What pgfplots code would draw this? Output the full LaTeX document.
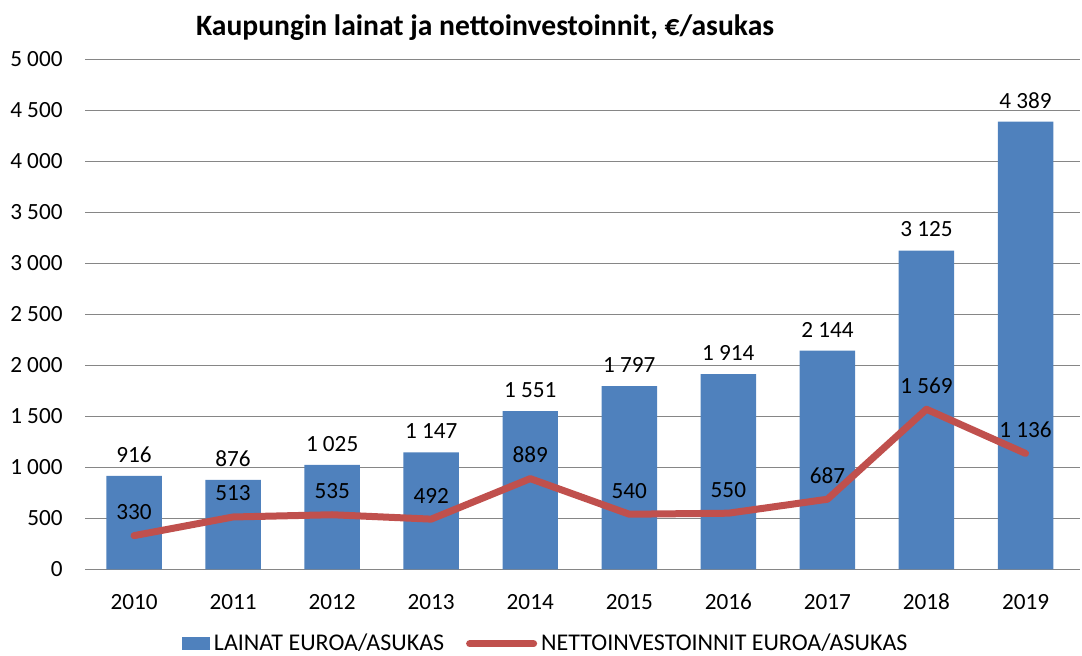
\documentclass[border=0pt]{standalone}
\usepackage{fontspec}
\setmainfont{Carlito}
\usepackage{pgfplots}
\pgfplotsset{compat=1.18}
\definecolor{barblue}{HTML}{4F81BD}
\definecolor{linered}{HTML}{C0504D}
\definecolor{gridgray}{HTML}{868686}

\begin{document}
\begin{tikzpicture}
    \path[use as bounding box] (0,0) rectangle (541pt,327.5pt);
    \node[font=\fontsize{14.8}{17}\selectfont\bfseries] at (242.5pt,313.5pt)
        {Kaupungin lainat ja nettoinvestoinnit, €/asukas};
    \begin{axis}
        [
        at={(42.5pt,42.85pt)}, anchor=south west,
        scale only axis, width=497.5pt, height=255pt,
        xmin=-0.495, xmax=9.55,
        ymin=0, ymax=5000,
        ytick={0,500,...,5000},
        xtick={0,...,9},
        xticklabels={2010,2011,2012,2013,2014,2015,2016,2017,2018,2019},
        axis line style={draw=none},
        major tick length=0pt,
        ymajorgrids=true,
        grid style={gridgray, line width=0.8pt},
        tick label style={font=\fontsize{11.6}{13}\selectfont},
        yticklabel style={anchor=east, xshift=-7.7pt},
        xticklabel style={anchor=base, yshift=-20pt},
        /pgf/number format/.cd, fixed, precision=0, 1000 sep={\hspace{0.226em}}, assume math mode=true,
        /pgfplots/.cd,
        legend columns=2,
        legend style={at={(0.464,-0.146)}, anchor=center, draw=none, fill=none,
            font=\fontsize{12}{13}\selectfont, inner sep=0pt,
            /tikz/every even column/.append style={column sep=9pt}},
        ]
        \addplot[ybar, bar width=0.56, fill=barblue, draw=none,
            nodes near coords,
            nodes near coords style={anchor=south, inner sep=0pt, yshift=6.5pt, text=black,
                font=\fontsize{11.6}{13}\selectfont},
            legend image code/.code={\fill[barblue] (0pt,-3.3pt) rectangle (14pt,3.3pt);}]
        coordinates {
            (0, 916)(1, 876)(2, 1025)(3, 1147)(4, 1551)(5, 1797)(6, 1914)(7, 2144)(8, 3125)(9, 4389)
        };
        \addlegendentry{LAINAT EUROA/ASUKAS}
        \addplot[linered, line width=3.5pt, line cap=round, line join=round, mark=none,
            nodes near coords,
            nodes near coords style={anchor=south, inner sep=0pt, yshift=6.2pt, text=black,
                font=\fontsize{11.6}{13}\selectfont},
            legend image code/.code={\draw[linered, line width=3.5pt, line cap=round] (0pt,0pt) -- (32pt,0pt);}]
        coordinates {
            (0, 330)(1, 513)(2, 535)(3, 492)(4, 889)(5, 540)(6, 550)(7, 687)(8, 1569)(9, 1136)
        };
        \addlegendentry{NETTOINVESTOINNIT EUROA/ASUKAS}
    \end{axis}
\end{tikzpicture}
\end{document}
